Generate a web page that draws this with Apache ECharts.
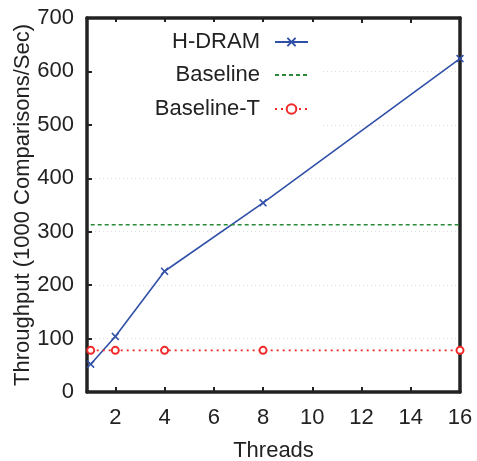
<!DOCTYPE html>
<html><head><meta charset="utf-8">
<script src="https://cdn.jsdelivr.net/npm/echarts@6/dist/echarts.min.js"></script>
<style>html,body{margin:0;padding:0;background:#fff}#c{width:477px;height:461px}</style>
</head><body><div id="c"></div>
<script>
const threads = [1, 2, 4, 8, 16];
const hdram = [52, 104, 226, 354, 624];
const baselineX = [1, 16];
const baseline = [313, 313];
const baselineT = [78, 78, 78, 78, 78];
const xTickLabels = [2, 4, 6, 8, 10, 12, 14, 16];
const yTicks = [0, 100, 200, 300, 400, 500, 600, 700];

const font = '"Liberation Sans", Arial, sans-serif';
const frame = '#222';
const chart = echarts.init(document.getElementById('c'), null, {renderer: 'canvas'});
const xCross = 'path://M0,1.4L1.4,0L5,3.6L8.6,0L10,1.4L6.4,5L10,8.6L8.6,10L5,6.4L1.4,10L0,8.6L3.6,5Z';

function legendFor(item, top) {
  return {
    data: [item], right: 168, top: top, align: 'right', orient: 'vertical',
    itemWidth: 33, itemHeight: 12, itemGap: 0, padding: 0, z: 10,
    textStyle: {fontFamily: font, fontSize: 22, color: '#222', padding: [0, 10, 0, 0]}
  };
}

chart.setOption({
  animation: false,
  backgroundColor: '#fff',
  grid: {left: 87, right: 17, top: 18, bottom: 69, outerBoundsMode: 'none', containLabel: false},
  graphic: [{type: 'rect', left: 95, top: 22, shape: {width: 227, height: 104}, style: {fill: '#fff'}, z: 2, silent: true}],
  legend: [
    legendFor('H-DRAM', 31),
    legendFor({name: 'Baseline', itemStyle: {opacity: 0}}, 64),
    legendFor('Baseline-T', 98)
  ],
  xAxis: [{
    type: 'value', min: 0.85, max: 16,
    name: 'Threads', nameLocation: 'middle', nameGap: 48, nameMoveOverlap: false,
    nameTextStyle: {fontFamily: font, fontSize: 22, color: '#222'},
    axisLine: {show: true, onZero: false, lineStyle: {color: frame, width: 3.5}},
    axisTick: {show: true, inside: true, length: 5, customValues: [2, 4, 6, 8, 10, 12, 14], lineStyle: {color: frame, width: 2}},
    axisLabel: {customValues: xTickLabels, margin: 15, fontFamily: font, fontSize: 22, color: '#222'},
    splitLine: {show: false}
  }, {
    type: 'value', min: 0.85, max: 16, position: 'top',
    axisLine: {show: true, onZero: false, lineStyle: {color: frame, width: 3.5}},
    axisTick: {show: true, inside: true, length: 5, customValues: [2, 4, 6, 8, 10, 12, 14], lineStyle: {color: frame, width: 2}},
    axisLabel: {show: false}, splitLine: {show: false}
  }],
  yAxis: [{
    type: 'value', min: 0, max: 700, interval: 100,
    name: 'Throughput (1000 Comparisons/Sec)', nameLocation: 'middle', nameGap: 53, nameMoveOverlap: false,
    nameTextStyle: {fontFamily: font, fontSize: 22, color: '#222'},
    axisLine: {show: true, onZero: false, lineStyle: {color: frame, width: 3.5}},
    axisTick: {show: true, inside: true, length: 5, lineStyle: {color: frame, width: 2}},
    axisLabel: {margin: 13, fontFamily: font, fontSize: 22, color: '#222', customValues: yTicks},
    splitLine: {show: true, lineStyle: {color: '#ddd', type: [1, 3], width: 1}}
  }, {
    type: 'value', min: 0, max: 700, interval: 100, position: 'right',
    axisLine: {show: true, onZero: false, lineStyle: {color: frame, width: 3.5}},
    axisTick: {show: false}, axisLabel: {show: false}, splitLine: {show: false}
  }],
  series: [{
    name: 'H-DRAM', type: 'line', data: threads.map((t, i) => [t, hdram[i]]),
    symbol: xCross, symbolSize: 8, showAllSymbol: true,
    lineStyle: {color: '#3050a8', width: 1.6}, itemStyle: {color: '#3050a8'}, z: 3
  }, {
    name: 'Baseline', type: 'line', data: baselineX.map((t, i) => [t, baseline[i]]),
    symbol: 'circle', symbolSize: 0, showSymbol: false,
    lineStyle: {color: '#2a8a3a', width: 1.6, type: [4, 3]}, itemStyle: {color: '#2a8a3a'}, z: 3
  }, {
    name: 'Baseline-T', type: 'line', data: threads.map((t, i) => [t, baselineT[i]]),
    symbol: 'emptyCircle', symbolSize: 7, showAllSymbol: true,
    lineStyle: {color: '#f02828', width: 1.8, type: [2, 4]},
    itemStyle: {color: '#f02828', borderColor: '#f02828', borderWidth: 3.5}, z: 3
  }]
});
</script></body></html>
